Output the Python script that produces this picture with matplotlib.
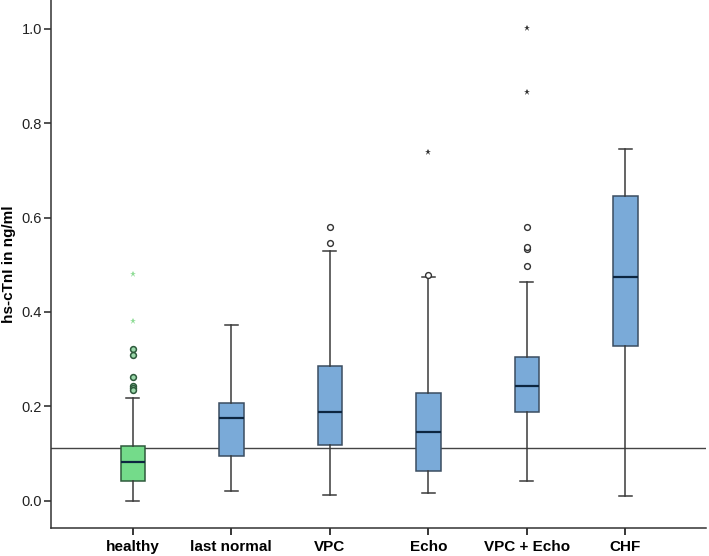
import numpy as np
import matplotlib.pyplot as plt

plt.rcParams['font.family'] = ['Liberation Sans', 'DejaVu Sans']

# group names and box statistics (hs-cTnI, ng/ml)
groups = ['healthy', 'last normal', 'VPC', 'Echo', 'VPC + Echo', 'CHF']
whislo = [0.000, 0.021, 0.013, 0.016, 0.041, 0.009]
q1 = [0.042, 0.095, 0.119, 0.064, 0.189, 0.327]
med = [0.082, 0.175, 0.187, 0.146, 0.244, 0.475]
q3 = [0.116, 0.208, 0.286, 0.228, 0.304, 0.645]
whishi = [0.218, 0.373, 0.529, 0.475, 0.463, 0.746]
# mild outliers (circles) and extreme outliers (stars)
circles = [[0.321, 0.309, 0.263, 0.243, 0.238, 0.234],
           [],
           [0.547, 0.580],
           [0.479],
           [0.498, 0.533, 0.537, 0.579],
           []]
stars = [[0.380, 0.481, 1.070],
         [],
         [],
         [0.739],
         [0.867, 1.001],
         []]
cutoff = 0.112

box_colors = ['#74db8a', '#7aaad8', '#7aaad8', '#7aaad8', '#7aaad8', '#7aaad8']
edge_colors = ['#2e5a3c', '#3b4d60', '#3b4d60', '#3b4d60', '#3b4d60', '#3b4d60']

fig = plt.figure(figsize=(7.09, 5.56), dpi=100)
ax = fig.add_axes([0.072, 0.051, 0.924, 0.949])

stats = []
for i, g in enumerate(groups):
    stats.append({'label': g, 'whislo': whislo[i], 'q1': q1[i], 'med': med[i],
                  'q3': q3[i], 'whishi': whishi[i], 'fliers': []})

pos = np.arange(len(groups))
bp = ax.bxp(stats, positions=pos, widths=0.25, patch_artist=True,
            showfliers=False,
            whiskerprops=dict(color='#3a3a3a', linewidth=1.1),
            capprops=dict(color='#3a3a3a', linewidth=1.1),
            medianprops=dict(color='#0d2640', linewidth=1.6))
for i, b in enumerate(bp['boxes']):
    b.set_facecolor(box_colors[i])
    b.set_edgecolor(edge_colors[i])
    b.set_linewidth(1.1)
for c in bp['caps']:
    x0, x1 = c.get_xdata()
    mid = (x0 + x1) / 2
    c.set_xdata([mid - 0.065, mid + 0.065])

ax.axhline(cutoff, color='#444444', linewidth=1.0, zorder=1)

for i in range(len(groups)):
    if circles[i]:
        if i == 0:
            ax.plot([pos[i]] * len(circles[i]), circles[i], 'o', ms=4.2,
                    mfc='#9ad8aa', mec='#2e5a3c', mew=1.1, clip_on=False)
        else:
            ax.plot([pos[i]] * len(circles[i]), circles[i], 'o', ms=4.2,
                    mfc='white', mec='#333333', mew=1.0, clip_on=False)
    if stars[i]:
        col = '#8fdc96' if i == 0 else '#333333'
        ax.plot([pos[i]] * len(stars[i]), stars[i], '*', ms=4.5,
                color=col, mew=0)

ax.set_xlim(-0.83, 5.82)
ax.set_ylim(-0.057, 1.061)
ax.set_yticks([0.0, 0.2, 0.4, 0.6, 0.8, 1.0])
ax.set_yticklabels(['0.0', '0.2', '0.4', '0.6', '0.8', '1.0'])
ax.set_xticks(pos)
ax.set_xticklabels(groups, fontweight='bold', fontsize=11)
ax.tick_params(axis='y', labelsize=10.5, colors='#222222', length=5, width=1.1, pad=1.5)
ax.tick_params(axis='x', length=5, width=1.1, pad=4)
ax.set_ylabel('hs-cTnI in ng/ml', fontweight='bold', fontsize=11)
ax.yaxis.set_label_coords(-0.054, 0.5)

ax.spines['top'].set_visible(False)
ax.spines['right'].set_visible(False)
ax.spines['left'].set_linewidth(1.1)
ax.spines['bottom'].set_linewidth(1.1)
ax.spines['left'].set_color('#333333')
ax.spines['bottom'].set_color('#333333')

fig.savefig('out.png', dpi=100)
